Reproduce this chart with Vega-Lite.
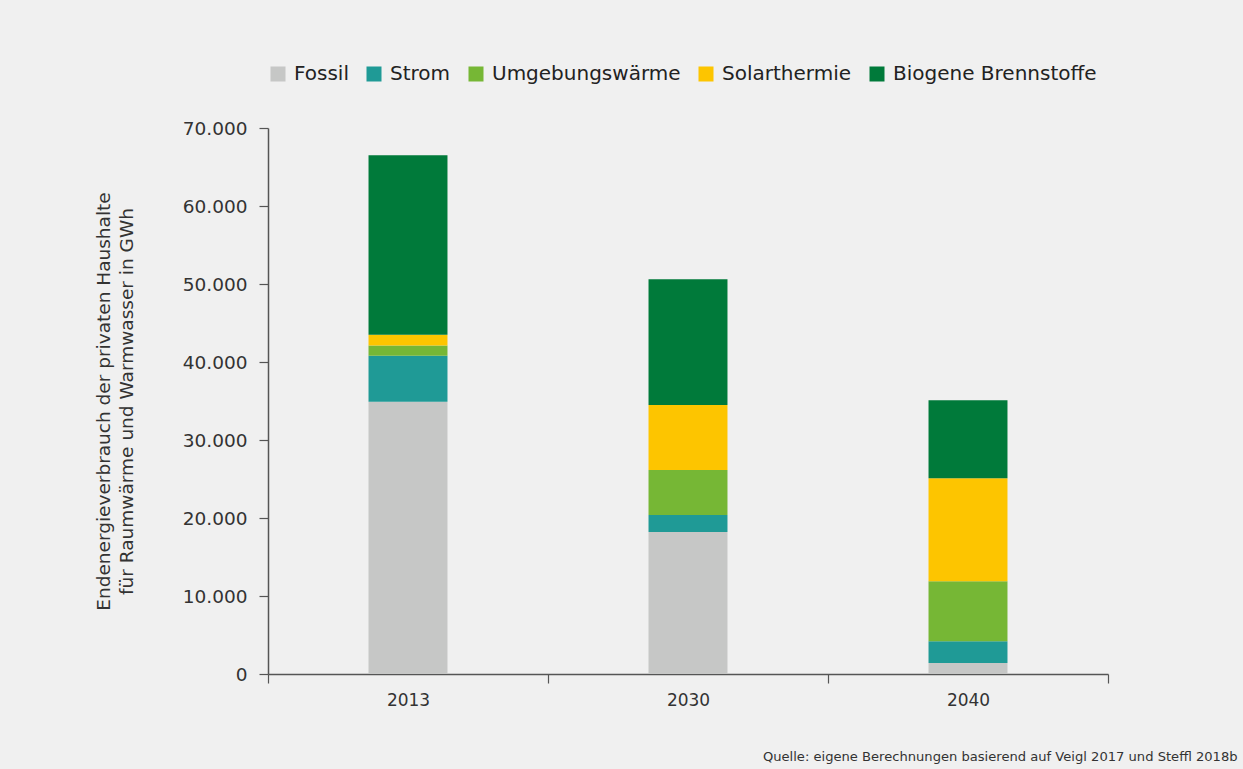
{
  "$schema": "https://vega.github.io/schema/vega-lite/v6.json",
  "width": 840,
  "height": 546,
  "autosize": {"type": "none"},
  "padding": {"left": 268, "top": 128, "right": 135, "bottom": 95},
  "background": "#f0f0f0",
  "config": {
    "font": "DejaVu Sans",
    "view": {"stroke": null},
    "axis": {"domainColor": "#555555", "tickColor": "#555555", "labelColor": "#333333", "titleColor": "#333333", "grid": false, "domainWidth": 1.5, "tickWidth": 1.2}
  },
  "title": {
    "text": "Quelle: eigene Berechnungen basierend auf Veigl 2017 und Steffl 2018b",
    "orient": "bottom",
    "anchor": "end",
    "fontSize": 13.1,
    "fontWeight": "normal",
    "color": "#333333",
    "dx": 129,
    "offset": 43
  },
  "data": {
    "values": [
      {"Jahr": "2013", "Energieträger": "Fossil", "GWh": 34900},
      {"Jahr": "2013", "Energieträger": "Strom", "GWh": 5900},
      {"Jahr": "2013", "Energieträger": "Umgebungswärme", "GWh": 1300},
      {"Jahr": "2013", "Energieträger": "Solarthermie", "GWh": 1400},
      {"Jahr": "2013", "Energieträger": "Biogene Brennstoffe", "GWh": 23000},
      {"Jahr": "2030", "Energieträger": "Fossil", "GWh": 18200},
      {"Jahr": "2030", "Energieträger": "Strom", "GWh": 2200},
      {"Jahr": "2030", "Energieträger": "Umgebungswärme", "GWh": 5750},
      {"Jahr": "2030", "Energieträger": "Solarthermie", "GWh": 8350},
      {"Jahr": "2030", "Energieträger": "Biogene Brennstoffe", "GWh": 16100},
      {"Jahr": "2040", "Energieträger": "Fossil", "GWh": 1400},
      {"Jahr": "2040", "Energieträger": "Strom", "GWh": 2800},
      {"Jahr": "2040", "Energieträger": "Umgebungswärme", "GWh": 7700},
      {"Jahr": "2040", "Energieträger": "Solarthermie", "GWh": 13200},
      {"Jahr": "2040", "Energieträger": "Biogene Brennstoffe", "GWh": 10000}
    ]
  },
  "transform": [
    {"calculate": "indexof(['Fossil', 'Strom', 'Umgebungswärme', 'Solarthermie', 'Biogene Brennstoffe'], datum['Energieträger'])", "as": "Stapelfolge"}
  ],
  "mark": {"type": "bar", "width": {"band": 0.282}},
  "encoding": {
    "x": {
      "field": "Jahr",
      "type": "nominal",
      "scale": {"paddingInner": 0, "paddingOuter": 0},
      "axis": {"title": null, "labelAngle": 0, "labelFontSize": 17, "labelPadding": 9, "tickBand": "extent", "tickSize": 9, "domainWidth": 1.5}
    },
    "y": {
      "field": "GWh",
      "type": "quantitative",
      "stack": "zero",
      "scale": {"domain": [0, 70000]},
      "axis": {
        "title": ["Endenergieverbrauch der privaten Haushalte", "für Raumwärme und Warmwasser in GWh"],
        "titleFontSize": 18.5,
        "titleFontWeight": "normal",
        "titlePadding": 46,
        "titleLineHeight": 23,
        "labelFontSize": 18.5,
        "labelPadding": 12,
        "tickSize": 9,
        "values": [0, 10000, 20000, 30000, 40000, 50000, 60000, 70000],
        "labelExpr": "replace(format(datum.value, ','), ',', '.')"
      }
    },
    "color": {
      "field": "Energieträger",
      "type": "nominal",
      "sort": ["Fossil", "Strom", "Umgebungswärme", "Solarthermie", "Biogene Brennstoffe"],
      "scale": {
        "domain": ["Fossil", "Strom", "Umgebungswärme", "Solarthermie", "Biogene Brennstoffe"],
        "range": ["#c6c7c6", "#1f9a96", "#76b735", "#fdc500", "#007a3a"]
      },
      "legend": {
        "title": null,
        "orient": "none",
        "direction": "horizontal",
        "legendX": 0,
        "legendY": -64,
        "symbolType": "square",
        "symbolSize": 225,
        "symbolStrokeWidth": 0,
        "symbolOpacity": 1,
        "labelFontSize": 20,
        "labelLimit": 400,
        "labelColor": "#222222",
        "labelOffset": 6,
        "columnPadding": 15
      }
    },
    "order": {"field": "Stapelfolge", "type": "quantitative", "sort": "ascending"}
  }
}
